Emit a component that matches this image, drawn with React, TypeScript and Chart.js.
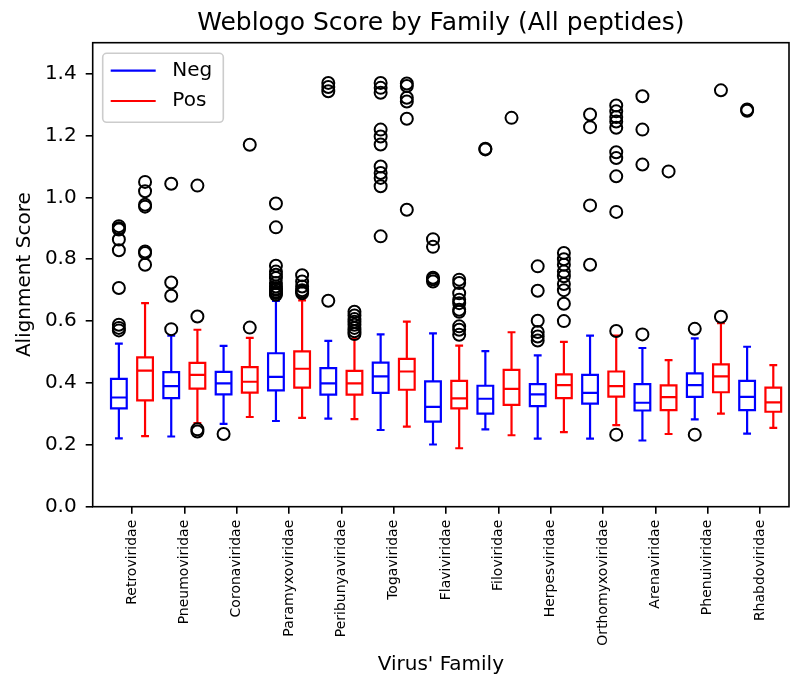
import React, { useEffect, useRef } from 'react';
import { Chart, registerables } from 'chart.js';

Chart.register(...registerables);

const FONT = 'DejaVu Sans';

const families = [
  'Retroviridae', 'Pneumoviridae', 'Coronaviridae', 'Paramyxoviridae', 'Peribunyaviridae',
  'Togaviridae', 'Flaviviridae', 'Filoviridae', 'Herpesviridae', 'Orthomyxoviridae',
  'Arenaviridae', 'Phenuiviridae', 'Rhabdoviridae',
];

const yTicks = [0, 0.2, 0.4, 0.6, 0.8, 1.0, 1.2, 1.4];

// Neg (blue) box statistics
const negLow = [0.221, 0.227, 0.268, 0.277, 0.285, 0.248, 0.201, 0.250, 0.220, 0.220, 0.214, 0.282, 0.236];
const negQ1 = [0.318, 0.351, 0.363, 0.376, 0.362, 0.368, 0.275, 0.301, 0.325, 0.333, 0.311, 0.355, 0.312];
const negMedian = [0.353, 0.390, 0.399, 0.420, 0.399, 0.421, 0.323, 0.349, 0.363, 0.368, 0.336, 0.393, 0.355];
const negQ3 = [0.413, 0.435, 0.436, 0.496, 0.448, 0.466, 0.405, 0.391, 0.396, 0.426, 0.396, 0.431, 0.407];
const negHigh = [0.527, 0.553, 0.520, 0.665, 0.536, 0.557, 0.560, 0.503, 0.489, 0.553, 0.513, 0.544, 0.517];

// Pos (red) box statistics
const posLow = [0.228, 0.270, 0.290, 0.287, 0.283, 0.259, 0.189, 0.231, 0.241, 0.264, 0.235, 0.301, 0.255];
const posQ1 = [0.344, 0.382, 0.369, 0.385, 0.362, 0.378, 0.318, 0.329, 0.351, 0.356, 0.312, 0.370, 0.307];
const posMedian = [0.440, 0.426, 0.404, 0.446, 0.399, 0.437, 0.350, 0.381, 0.393, 0.390, 0.354, 0.421, 0.337];
const posQ3 = [0.483, 0.465, 0.451, 0.502, 0.439, 0.478, 0.407, 0.442, 0.428, 0.437, 0.392, 0.460, 0.385];
const posHigh = [0.658, 0.572, 0.546, 0.667, 0.543, 0.598, 0.521, 0.564, 0.533, 0.553, 0.474, 0.593, 0.458];

// Outliers (fliers)
const negOutliers = [
  [0.907, 0.900, 0.896, 0.864, 0.829, 0.707, 0.588, 0.578, 0.570],
  [1.044, 0.725, 0.682, 0.574],
  [0.235],
  [0.980, 0.903, 0.779, 0.760, 0.750, 0.739, 0.723, 0.712, 0.705, 0.701, 0.695, 0.691, 0.685],
  [1.370, 1.357, 1.343, 0.666],
  [1.370, 1.354, 1.338, 1.219, 1.197, 1.171, 1.100, 1.079, 1.063, 1.036, 0.874],
  [0.865, 0.840, 0.740, 0.735, 0.728],
  [1.157, 1.155],
  [0.777, 0.698, 0.601, 0.565, 0.550, 0.537],
  [1.268, 1.227, 0.974, 0.782],
  [1.327, 1.219, 1.106, 0.557],
  [0.575, 0.233],
  [1.284, 1.280],
];
const posOutliers = [
  [1.050, 1.020, 0.976, 0.970, 0.825, 0.820, 0.782],
  [1.038, 0.615, 0.250, 0.243],
  [1.170, 0.579],
  [0.748, 0.728, 0.712, 0.700, 0.695, 0.690],
  [0.630, 0.618, 0.607, 0.598, 0.588, 0.578, 0.567, 0.558],
  [1.368, 1.360, 1.322, 1.310, 1.254, 0.960],
  [0.734, 0.723, 0.690, 0.669, 0.658, 0.637, 0.630, 0.583, 0.572, 0.556],
  [1.257],
  [0.820, 0.800, 0.782, 0.760, 0.745, 0.720, 0.700, 0.656, 0.600],
  [1.297, 1.278, 1.260, 1.245, 1.225, 1.146, 1.127, 1.068, 0.953, 0.568, 0.233],
  [1.084],
  [1.346, 0.614],
  [],
];

const NEG_COLOR = '#0000ff';
const POS_COLOR = '#ff0000';
const OFFSET = 0.25;
const BOX_W = 0.3;
const CAP_W = 0.15;

const boxPlugin = {
  id: 'boxes',
  beforeDatasetsDraw(chart: any) {
    const { ctx, scales } = chart;
    const x = scales.x;
    const y = scales.y;
    ctx.save();
    ctx.lineWidth = 2.2;
    ctx.lineCap = 'butt';
    const drawBox = (cx: number, lo: number, q1: number, med: number, q3: number, hi: number, color: string) => {
      const xl = x.getPixelForValue(cx - BOX_W / 2);
      const xr = x.getPixelForValue(cx + BOX_W / 2);
      const xc = x.getPixelForValue(cx);
      const cl = x.getPixelForValue(cx - CAP_W / 2);
      const cr = x.getPixelForValue(cx + CAP_W / 2);
      const pLo = y.getPixelForValue(lo);
      const pQ1 = y.getPixelForValue(q1);
      const pMed = y.getPixelForValue(med);
      const pQ3 = y.getPixelForValue(q3);
      const pHi = y.getPixelForValue(hi);
      ctx.strokeStyle = color;
      ctx.beginPath();
      ctx.rect(xl, pQ3, xr - xl, pQ1 - pQ3);
      ctx.stroke();
      ctx.beginPath();
      ctx.moveTo(xc, pQ1); ctx.lineTo(xc, pLo);
      ctx.moveTo(xc, pQ3); ctx.lineTo(xc, pHi);
      ctx.moveTo(cl, pLo); ctx.lineTo(cr, pLo);
      ctx.moveTo(cl, pHi); ctx.lineTo(cr, pHi);
      ctx.moveTo(xl, pMed); ctx.lineTo(xr, pMed);
      ctx.stroke();
    };
    families.forEach((_, i) => {
      drawBox(i - OFFSET, negLow[i], negQ1[i], negMedian[i], negQ3[i], negHigh[i], NEG_COLOR);
      drawBox(i + OFFSET, posLow[i], posQ1[i], posMedian[i], posQ3[i], posHigh[i], POS_COLOR);
    });
    ctx.restore();
  },
  afterDraw(chart: any) {
    const { ctx, chartArea } = chart;
    const { left, right, top, bottom } = chartArea;
    ctx.save();
    // spines
    ctx.strokeStyle = '#000';
    ctx.lineWidth = 1.6;
    ctx.strokeRect(left, top, right - left, bottom - top);
    // title
    ctx.fillStyle = '#000';
    ctx.font = `25px "${FONT}"`;
    ctx.textAlign = 'center';
    ctx.textBaseline = 'alphabetic';
    ctx.fillText('Weblogo Score by Family (All peptides)', (left + right) / 2, 30);
    // legend
    const lx = left + 10;
    const ly = top + 10.6;
    const lw = 120.6;
    const lh = 69;
    const r = 4;
    ctx.beginPath();
    ctx.moveTo(lx + r, ly);
    ctx.lineTo(lx + lw - r, ly);
    ctx.arcTo(lx + lw, ly, lx + lw, ly + r, r);
    ctx.lineTo(lx + lw, ly + lh - r);
    ctx.arcTo(lx + lw, ly + lh, lx + lw - r, ly + lh, r);
    ctx.lineTo(lx + r, ly + lh);
    ctx.arcTo(lx, ly + lh, lx, ly + lh - r, r);
    ctx.lineTo(lx, ly + r);
    ctx.arcTo(lx, ly, lx + r, ly, r);
    ctx.closePath();
    ctx.fillStyle = 'rgba(255,255,255,0.8)';
    ctx.fill();
    ctx.strokeStyle = '#cccccc';
    ctx.lineWidth = 1.6;
    ctx.stroke();
    const items = [
      { label: 'Neg', color: NEG_COLOR, yy: ly + 17.4 },
      { label: 'Pos', color: POS_COLOR, yy: ly + 47.7 },
    ];
    ctx.font = `20px "${FONT}"`;
    ctx.textAlign = 'left';
    ctx.textBaseline = 'middle';
    items.forEach((it) => {
      ctx.strokeStyle = it.color;
      ctx.lineWidth = 2.2;
      ctx.beginPath();
      ctx.moveTo(lx + 8, it.yy);
      ctx.lineTo(lx + 53, it.yy);
      ctx.stroke();
      ctx.fillStyle = '#000';
      ctx.fillText(it.label, lx + 69.6, it.yy);
    });
    ctx.restore();
  },
};

export default function App() {
  const canvasRef = useRef<HTMLCanvasElement | null>(null);

  useEffect(() => {
    const canvas = canvasRef.current;
    if (!canvas) return;
    const negPoints: { x: number; y: number }[] = [];
    const posPoints: { x: number; y: number }[] = [];
    negOutliers.forEach((vals, i) => vals.forEach((v) => negPoints.push({ x: i - OFFSET, y: v })));
    posOutliers.forEach((vals, i) => vals.forEach((v) => posPoints.push({ x: i + OFFSET, y: v })));

    const pointStyle = {
      pointRadius: 6,
      pointHoverRadius: 6,
      pointBorderWidth: 2,
      pointBorderColor: '#000',
      pointBackgroundColor: 'rgba(0,0,0,0)',
      showLine: false,
    };

    const chart = new Chart(canvas, {
      type: 'scatter',
      data: {
        datasets: [
          { label: 'Neg outliers', data: negPoints, ...pointStyle },
          { label: 'Pos outliers', data: posPoints, ...pointStyle },
        ],
      },
      plugins: [boxPlugin],
      options: {
        responsive: false,
        animation: false,
        events: [],
        layout: { padding: { top: 42.7, right: 1, left: 0, bottom: 0 } },
        plugins: {
          legend: { display: false },
          tooltip: { enabled: false },
          title: { display: false },
        },
        scales: {
          x: {
            type: 'linear',
            min: -0.75,
            max: 12.55,
            afterBuildTicks: (s: any) => {
              s.ticks = families.map((_, i) => ({ value: i }));
            },
            afterFit: (s: any) => {
              s.height = 172.3;
            },
            ticks: {
              autoSkip: false,
              minRotation: 90,
              maxRotation: 90,
              padding: 6,
              color: '#000',
              font: { family: FONT, size: 14 },
              callback: (_v: any, idx: number) => families[idx],
            },
            grid: { drawOnChartArea: false, drawTicks: true, tickLength: 7, color: '#000', lineWidth: 1.6 },
            border: { display: false },
            title: {
              display: true,
              text: "Virus' Family",
              color: '#000',
              font: { family: FONT, size: 20 },
              padding: { top: 0, bottom: 2 },
            },
          },
          y: {
            type: 'linear',
            min: 0,
            max: 1.5,
            afterBuildTicks: (s: any) => {
              s.ticks = yTicks.map((v) => ({ value: v }));
            },
            afterFit: (s: any) => {
              s.width = 92.7;
            },
            ticks: {
              padding: 9,
              color: '#000',
              font: { family: FONT, size: 20 },
              callback: (v: any) => Number(v).toFixed(1),
            },
            grid: { drawOnChartArea: false, drawTicks: true, tickLength: 7, color: '#000', lineWidth: 1.6 },
            border: { display: false },
            title: {
              display: true,
              text: 'Alignment Score',
              color: '#000',
              font: { family: FONT, size: 20 },
              padding: { top: 13, bottom: 0 },
            },
          },
        },
      } as any,
    });
    return () => chart.destroy();
  }, []);

  return (
    <div style={{ position: 'fixed', left: 0, top: 0, width: 797, height: 679, background: '#fff' }}>
      <canvas ref={canvasRef} width={797} height={679} style={{ display: 'block', width: 797, height: 679 }} />
    </div>
  );
}
